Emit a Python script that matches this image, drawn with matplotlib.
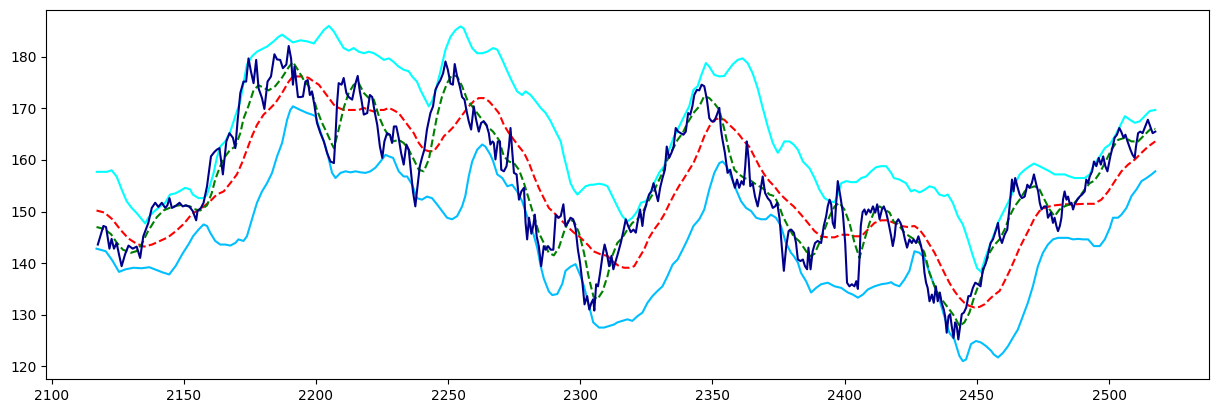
import numpy as np
import matplotlib
matplotlib.use("Agg")
import matplotlib.pyplot as plt

# price
price_x = [2117.5, 2119.6, 2120.6, 2121.9, 2122.7, 2123.6, 2124.6, 2125.5, 2126.5, 2127.8, 2129.1, 2130.7, 2132.2, 2133.5, 2134.7, 2136.6, 2137.9, 2139.2, 2140.4, 2141.7, 2143.0, 2143.8, 2144.6, 2145.5, 2146.7, 2148.4, 2149.6, 2150.9, 2152.2, 2153.4,
           2154.7, 2155.2, 2156.5, 2157.5, 2158.8, 2160.3, 2161.5, 2162.5, 2163.5, 2164.8, 2166.1, 2167.3, 2168.6, 2169.5, 2170.4, 2171.4, 2172.6, 2173.6, 2174.5, 2175.4, 2176.4, 2177.4, 2178.3, 2179.6, 2180.5, 2181.7, 2183.0, 2184.3, 2185.3, 2186.5, 2187.5, 2188.8, 2189.7, 2190.6, 2191.3,
           2191.9, 2192.6, 2193.2, 2194.1, 2195.1, 2196.0, 2196.9, 2197.7, 2198.5, 2199.4, 2200.4, 2201.7, 2203.0, 2204.2, 2205.5, 2206.8, 2207.4, 2208.0, 2208.6, 2209.7, 2210.5, 2211.5, 2212.4, 2213.7, 2215.0, 2215.8, 2216.6, 2217.2, 2218.1, 2219.4, 2220.4, 2221.3, 2222.2, 2223.2, 2224.2, 2225.1, 2225.9, 2226.9, 2228.0, 2228.8, 2229.5,
           2230.4, 2231.3, 2232.2, 2233.2, 2234.2, 2235.1, 2236.0, 2236.7, 2237.6, 2238.2, 2239.3, 2240.1, 2241.0, 2242.0, 2243.3, 2244.3, 2245.2, 2246.1, 2247.1, 2248.1, 2249.0, 2249.9, 2250.9, 2251.8, 2252.5, 2253.4, 2254.4, 2255.3, 2256.2, 2256.9, 2257.8, 2258.7, 2259.7, 2260.6, 2261.6, 2262.5, 2263.5, 2264.5, 2265.4, 2266.0, 2266.8,
           2267.3, 2267.9, 2268.8, 2269.6, 2270.1, 2271.1, 2272.1, 2273.0, 2273.6, 2274.2, 2274.9, 2275.9, 2276.8, 2277.7, 2278.7, 2279.3, 2279.9, 2280.6, 2281.5, 2282.2, 2282.8, 2283.5, 2284.3, 2285.2, 2286.2, 2286.9, 2287.8, 2288.8, 2289.8, 2290.7, 2291.6, 2292.6, 2293.6, 2294.4, 2295.3, 2296.3, 2297.3, 2298.2, 2299.1, 2299.9, 2300.8, 2301.6, 2302.6, 2303.4, 2304.2, 2304.9,
           2305.3, 2306.0, 2306.7, 2307.5, 2308.4, 2309.2, 2310.0, 2310.9, 2311.8, 2312.5, 2313.4, 2314.3, 2315.3, 2316.3, 2317.2, 2318.1, 2319.1, 2320.1, 2321.0, 2321.6, 2322.6, 2323.5, 2324.1, 2325.1, 2326.0, 2326.9, 2327.7, 2328.6, 2329.4, 2330.2, 2331.1, 2332.0, 2332.7, 2333.6, 2334.5, 2335.3, 2336.1, 2337.0, 2338.0, 2339.0, 2339.9, 2340.8, 2341.6, 2342.4, 2343.1,
           2344.1, 2345.0, 2345.9, 2346.9, 2347.9, 2348.8, 2349.7, 2350.7, 2351.7, 2352.6, 2353.2, 2353.8, 2354.7, 2355.7, 2356.7, 2357.6, 2358.5, 2359.3, 2360.1, 2361.0, 2361.8, 2362.4, 2363.0, 2363.7, 2364.3, 2365.2, 2366.1, 2367.1, 2368.1, 2369.0, 2369.9, 2370.9, 2371.9, 2372.8, 2373.7, 2374.5, 2375.4, 2376.2, 2377.0, 2377.9, 2378.8, 2379.8, 2380.8,
           2381.6, 2382.3, 2383.3, 2384.2, 2385.0, 2385.8, 2386.3, 2387.1, 2387.9, 2388.8, 2389.8, 2391.1, 2392.1, 2393.0, 2393.6, 2394.3, 2394.9, 2395.5, 2396.2, 2396.8, 2397.4, 2398.4, 2399.3, 2400.2, 2400.9, 2401.8, 2402.7, 2403.7, 2404.4, 2405.0, 2405.6, 2406.1, 2406.8, 2407.5, 2408.1, 2409.0, 2409.8, 2410.7, 2411.6, 2412.3, 2413.2, 2414.1, 2414.8, 2415.7, 2416.6, 2417.6, 2418.2, 2418.9,
           2419.4, 2420.3, 2421.1, 2422.0, 2422.8, 2423.6, 2424.5, 2425.4, 2426.1, 2427.0, 2427.9, 2428.6, 2429.5, 2430.2, 2430.8, 2431.4, 2432.1, 2433.0, 2433.7, 2434.5, 2435.2, 2436.0, 2436.7, 2437.5, 2438.0, 2438.6, 2439.3, 2439.9, 2440.5, 2441.2, 2441.8, 2442.4, 2443.0, 2443.7, 2444.3, 2445.1, 2446.0, 2446.8, 2447.6, 2448.5, 2449.4, 2450.4, 2451.4, 2452.3, 2453.2, 2454.2, 2455.2, 2456.1,
           2457.3, 2458.0, 2458.6, 2459.5, 2460.5, 2461.5, 2462.4, 2463.3, 2463.9, 2464.5, 2465.3, 2466.2, 2467.0, 2468.1, 2469.1, 2469.9, 2470.8, 2471.6, 2472.5, 2473.2, 2473.8, 2474.5, 2475.5, 2476.3, 2476.9, 2478.0, 2478.8, 2479.4, 2480.1, 2480.7, 2481.4, 2482.0, 2482.6, 2483.2, 2483.9, 2484.5, 2485.2, 2485.8, 2486.4, 2487.0, 2488.0, 2488.9, 2489.8, 2490.8, 2491.4, 2492.1, 2492.7, 2493.6, 2494.3,
           2495.2, 2496.1, 2496.9, 2497.8, 2498.6, 2499.4, 2500.5, 2501.4, 2502.1, 2503.0, 2503.9, 2504.6, 2505.5, 2506.2, 2507.0, 2508.1, 2508.9, 2509.7, 2510.2, 2511.0, 2511.8, 2512.7, 2513.7, 2514.7, 2515.6, 2516.5, 2517.5]
price_y = [143.6, 147.2, 147.0, 142.8, 144.7, 142.8, 143.9, 141.7, 139.4, 141.7, 143.4, 142.8, 143.2, 141.0, 145.2, 147.8, 150.7, 151.7, 150.9, 151.7, 150.7, 151.2, 152.6, 150.7, 151.0, 151.7, 151.0, 151.2, 150.9, 150.1,
           148.3, 150.1, 150.7, 151.7, 154.9, 160.7, 161.5, 162.0, 162.3, 157.2, 163.6, 165.2, 164.3, 162.3, 167.8, 173.0, 175.2, 175.2, 179.7, 177.2, 174.9, 179.4, 173.9, 172.0, 169.9, 175.2, 176.2, 180.5, 179.5, 179.4, 177.8, 178.5, 182.1, 179.7, 174.6,
           178.1, 174.9, 172.2, 172.2, 172.3, 175.2, 175.5, 172.6, 173.3, 170.7, 167.2, 165.2, 163.6, 161.4, 159.7, 159.4, 164.6, 171.0, 174.9, 174.6, 175.9, 173.0, 172.2, 171.7, 174.9, 176.3, 173.3, 171.7, 168.8, 169.1, 172.6, 172.2, 169.4, 166.8, 162.6, 160.4, 163.6, 165.2, 164.9, 163.3, 166.5,
           166.5, 164.3, 161.4, 159.1, 163.0, 162.0, 157.5, 153.9, 151.0, 153.9, 158.8, 160.4, 162.0, 165.9, 169.1, 170.4, 173.6, 174.6, 175.5, 176.8, 179.1, 177.5, 174.8, 174.6, 178.6, 176.2, 174.3, 172.2, 171.7, 169.7, 167.5, 165.9, 170.4, 167.8, 165.5, 167.2, 167.5, 166.8, 165.2, 163.0, 163.6,
           163.3, 160.1, 163.6, 163.6, 158.1, 157.8, 158.8, 162.6, 166.2, 162.0, 157.5, 157.2, 152.3, 153.9, 154.6, 147.8, 144.6, 148.8, 145.7, 147.2, 149.4, 145.2, 143.3, 139.4, 143.3, 142.6, 143.3, 142.6, 142.6, 149.4, 148.8, 149.1, 151.4, 147.2, 147.8, 148.8, 148.5, 146.8, 142.6, 140.1, 136.2, 132.0, 133.6, 131.0, 132.3, 133.0,
           130.8, 135.9, 135.5, 138.1, 141.4, 143.6, 142.0, 139.4, 141.4, 138.8, 140.4, 142.0, 143.9, 146.2, 148.5, 147.2, 146.0, 146.5, 145.9, 147.8, 150.4, 147.2, 149.8, 151.7, 153.3, 153.9, 155.5, 153.6, 152.0, 154.6, 156.5, 158.1, 162.6, 160.4, 161.4, 162.6, 166.2, 165.5, 165.2, 164.9, 165.5, 169.1, 168.8, 170.4, 172.6,
           173.6, 173.5, 174.6, 174.3, 171.7, 168.1, 167.5, 167.5, 168.8, 170.1, 165.9, 163.9, 161.4, 157.5, 158.1, 156.2, 154.6, 156.2, 154.6, 155.9, 155.2, 158.8, 163.6, 160.1, 154.9, 155.5, 152.9, 151.0, 153.9, 156.8, 153.6, 152.6, 152.0, 150.7, 151.0, 151.7, 148.5, 143.3, 138.5, 143.3, 146.2, 146.5, 145.9,
           143.9, 140.7, 140.4, 140.7, 139.4, 138.8, 143.0, 138.8, 142.3, 143.9, 144.3, 143.9, 147.2, 149.1, 151.0, 152.3, 151.4, 147.8, 146.8, 151.7, 155.9, 152.9, 149.8, 143.9, 136.2, 135.5, 135.9, 135.5, 136.5, 135.0, 140.7, 147.2, 149.9, 150.4, 149.4, 150.4, 149.8, 151.0, 149.8, 151.4, 148.5, 150.4, 151.0, 149.8, 147.8, 145.2, 143.3, 145.2,
           147.8, 148.5, 147.8, 146.5, 144.6, 143.0, 144.6, 143.9, 144.6, 143.9, 145.2, 143.9, 142.0, 138.1, 136.2, 135.2, 132.6, 133.9, 132.3, 135.5, 132.6, 134.3, 132.3, 131.0, 129.7, 126.5, 129.7, 130.1, 127.8, 125.5, 128.5, 127.8, 125.2, 127.8, 130.1, 130.4, 131.4, 133.6, 133.6, 135.2, 136.2, 135.9, 135.5, 138.8, 139.7, 141.7, 143.9, 144.6,
           146.5, 147.8, 145.2, 143.9, 145.5, 146.5, 151.0, 156.2, 153.9, 156.5, 154.9, 153.3, 152.6, 152.9, 155.2, 154.6, 155.5, 157.2, 155.2, 153.9, 151.7, 150.4, 151.0, 151.0, 148.8, 149.8, 147.8, 148.8, 147.2, 146.2, 147.2, 148.8, 152.3, 153.9, 152.3, 152.9, 151.4, 151.7, 150.4, 151.4, 152.3, 152.9, 153.3, 153.9, 156.2, 155.5, 156.8, 157.8, 159.7,
           158.8, 160.4, 159.1, 160.7, 158.8, 157.8, 160.7, 162.6, 164.3, 164.9, 166.2, 165.5, 164.3, 164.9, 163.6, 162.0, 161.0, 160.4, 162.6, 165.2, 165.5, 165.2, 166.5, 167.8, 166.5, 165.2, 165.5]

# short moving average (green dashed)
short_x = [2117.0, 2120.0, 2122.5, 2124.6, 2127.0, 2130.0, 2132.0, 2134.0, 2136.5, 2139.8, 2142.3, 2146.0, 2149.3, 2152.4,
           2153.7, 2156.2, 2158.8, 2160.6, 2161.9, 2163.8, 2165.7, 2167.6, 2169.5, 2171.4, 2172.6, 2174.5, 2176.4, 2178.3, 2180.2, 2182.1, 2184.6, 2187.2, 2189.7, 2191.3,
           2193.5, 2195.4, 2197.3, 2198.5, 2200.4, 2202.3, 2204.2, 2206.1, 2206.8, 2208.6, 2210.5, 2212.4, 2214.3, 2216.2, 2218.1, 2220.0, 2221.9, 2223.8, 2225.7, 2227.6, 2229.2,
           2231.3, 2233.2, 2235.1, 2237.0, 2238.9, 2240.8, 2242.7, 2243.9, 2245.8, 2247.7, 2249.6, 2251.5, 2253.4, 2255.3, 2257.2, 2259.1, 2261.0, 2262.9, 2264.8, 2267.0,
           2269.2, 2271.1, 2273.0, 2274.9, 2276.8, 2278.7, 2280.6, 2282.5, 2284.3, 2286.2, 2288.1, 2290.0, 2291.9, 2293.8, 2295.7, 2297.6, 2299.5, 2301.4, 2303.3, 2305.0,
           2306.5, 2308.4, 2310.3, 2312.1, 2314.0, 2315.9, 2317.8, 2319.7, 2321.6, 2323.5, 2325.4, 2327.3, 2329.2, 2331.1, 2333.0, 2334.9, 2336.8, 2338.7, 2340.6, 2342.8,
           2345.0, 2346.9, 2348.8, 2350.7, 2352.6, 2354.5, 2356.4, 2358.3, 2360.1, 2362.0, 2363.9, 2365.8, 2367.7, 2369.6, 2371.5, 2373.4, 2375.3, 2376.6, 2378.5, 2380.7,
           2382.9, 2384.8, 2386.7, 2388.6, 2390.5, 2392.4, 2394.3, 2396.2, 2398.0, 2399.9, 2401.8, 2403.7, 2405.6, 2407.5, 2409.4, 2411.3, 2413.2, 2415.1, 2417.0, 2418.6,
           2420.1, 2422.6, 2424.5, 2426.4, 2428.3, 2430.2, 2432.1, 2434.0, 2435.8, 2437.7, 2439.6, 2441.5, 2443.4, 2445.3, 2447.2, 2449.1, 2451.0, 2452.9, 2454.8, 2456.6,
           2458.6, 2460.5, 2462.4, 2464.3, 2466.2, 2468.1, 2470.0, 2471.9, 2473.7, 2475.6, 2477.5, 2479.4, 2481.3, 2483.2, 2485.1, 2487.0, 2488.9, 2490.8, 2492.7, 2494.5,
           2496.5, 2498.4, 2500.9, 2503.4, 2506.0, 2508.5, 2511.0, 2513.5, 2516.1, 2517.5]
short_y = [147.0, 146.6, 145.6, 144.0, 142.6, 142.0, 142.3, 143.6, 146.2, 148.9, 150.2, 151.0, 151.3, 151.0,
           150.5, 150.2, 151.2, 153.6, 156.2, 158.8, 160.7, 162.0, 162.6, 165.2, 168.0, 170.5, 173.5, 174.5, 174.0, 173.5, 174.3, 176.0, 178.0, 179.0,
           177.2, 175.5, 174.3, 173.0, 169.7, 167.2, 165.2, 163.0, 162.3, 165.9, 170.1, 173.0, 174.6, 174.9, 173.0, 172.0, 171.7, 168.5, 166.2, 164.6, 163.6,
           163.9, 163.3, 162.0, 160.1, 158.1, 157.8, 160.1, 163.3, 168.5, 172.3, 174.9, 176.5, 176.2, 174.3, 171.7, 170.4, 169.1, 167.8, 166.5, 165.5,
           163.9, 160.7, 159.7, 159.4, 158.1, 155.5, 152.3, 149.1, 145.9, 143.9, 142.0, 141.5, 143.0, 146.0, 148.5, 148.1, 145.9, 142.0, 137.0, 133.5,
           133.0, 134.5, 137.5, 141.4, 143.9, 144.9, 146.5, 147.8, 148.5, 149.8, 151.7, 153.3, 155.5, 157.5, 160.1, 162.0, 163.9, 165.2, 167.2, 169.1,
           170.4, 172.4, 172.0, 171.0, 169.7, 165.9, 161.4, 158.1, 157.2, 156.5, 156.2, 155.5, 154.9, 154.3, 153.3, 153.0, 151.0, 149.1, 147.2, 145.2,
           144.2, 142.8, 141.3, 141.8, 144.0, 146.5, 149.1, 151.0, 151.7, 150.4, 147.8, 144.0, 141.0, 144.5, 147.8, 150.1, 151.0, 150.4, 149.8, 148.0,
           147.6, 145.9, 145.2, 144.6, 143.9, 142.0, 138.1, 135.5, 133.6, 132.3, 131.0, 129.7, 127.8, 128.5, 130.4, 133.6, 136.2, 139.4, 142.0, 143.5,
           144.6, 146.5, 149.1, 151.0, 152.3, 153.9, 154.6, 154.9, 154.3, 152.3, 150.4, 149.1, 150.4, 151.0, 151.4, 151.7, 152.9, 154.3, 155.5, 156.0,
           157.5, 159.4, 162.0, 163.9, 164.3, 163.6, 163.6, 164.9, 166.2, 166.0]

# long moving average (red dashed)
long_x = [2117.0, 2120.0, 2123.0, 2126.0, 2129.0, 2132.0, 2135.0, 2138.0, 2141.0, 2144.0, 2147.0, 2150.0, 2153.0,
          2156.9, 2160.0, 2162.5, 2165.1, 2167.6, 2170.1, 2172.0, 2173.9, 2175.8, 2177.7, 2180.2, 2182.1, 2184.6, 2187.2, 2189.7, 2191.3,
          2193.5, 2195.4, 2197.3, 2199.2, 2201.1, 2203.0, 2204.9, 2206.8, 2208.6, 2210.5, 2212.4, 2214.3, 2216.2, 2218.1, 2220.0, 2221.9, 2223.8, 2225.7, 2227.6, 2229.2,
          2231.3, 2233.2, 2235.1, 2237.0, 2238.9, 2240.8, 2242.7, 2244.6, 2246.5, 2248.4, 2250.3, 2252.2, 2254.0, 2255.9, 2257.8, 2259.7, 2261.6, 2263.5, 2265.4, 2267.0,
          2269.2, 2271.1, 2273.0, 2274.9, 2276.8, 2278.7, 2280.6, 2282.5, 2284.3, 2286.2, 2288.1, 2290.0, 2291.9, 2293.8, 2295.7, 2297.6, 2299.5, 2301.4, 2303.3, 2304.9,
          2307.7, 2310.3, 2312.8, 2314.7, 2316.6, 2318.5, 2320.4, 2322.2, 2324.1, 2326.0, 2327.9, 2329.8, 2331.7, 2333.6, 2335.5, 2337.4, 2339.3, 2341.2, 2342.8,
          2345.0, 2346.9, 2348.8, 2350.7, 2352.6, 2354.5, 2356.4, 2358.3, 2360.1, 2362.0, 2363.9, 2365.8, 2367.7, 2369.6, 2371.5, 2373.4, 2375.3, 2377.2, 2379.1, 2380.7,
          2383.5, 2386.1, 2388.6, 2391.1, 2393.6, 2396.2, 2398.7, 2401.2, 2403.7, 2406.3, 2408.8, 2411.3, 2413.8, 2416.4, 2418.6,
          2421.3, 2423.9, 2426.4, 2428.3, 2430.2, 2432.1, 2434.0, 2435.8, 2437.7, 2439.6, 2441.5, 2443.4, 2445.3, 2447.2, 2449.1, 2451.0, 2452.9, 2454.8, 2456.5,
          2458.6, 2460.5, 2462.4, 2464.3, 2466.2, 2468.1, 2470.0, 2471.9, 2473.7, 2475.6, 2477.5, 2479.4, 2483.2, 2487.0, 2490.8, 2494.3,
          2497.1, 2499.7, 2502.2, 2504.7, 2507.2, 2509.8, 2512.3, 2514.8, 2517.5]
long_y = [150.2, 149.8, 148.5, 146.5, 144.8, 143.8, 143.2, 143.6, 144.3, 145.0, 146.2, 147.6, 149.5,
          150.7, 152.0, 153.3, 153.9, 155.5, 157.2, 159.4, 162.0, 164.6, 166.8, 168.8, 169.7, 171.0, 173.0, 175.2, 176.2,
          176.2, 176.2, 175.9, 175.2, 174.6, 173.3, 172.0, 170.7, 170.1, 169.7, 169.7, 169.7, 169.7, 170.1, 169.7, 169.4, 169.7, 169.7, 170.1, 169.7,
          169.1, 167.8, 166.5, 165.2, 163.3, 162.0, 161.7, 161.7, 163.0, 164.6, 165.5, 166.5, 167.8, 169.1, 170.4, 171.4, 172.0, 172.0, 171.4, 170.5,
          169.1, 166.8, 165.2, 163.9, 162.6, 161.4, 159.4, 156.8, 154.6, 152.6, 150.7, 149.8, 148.8, 147.8, 146.8, 145.9, 145.2, 144.3, 143.3, 142.3,
          141.7, 141.4, 140.1, 139.4, 139.1, 139.1, 139.4, 141.0, 142.6, 144.9, 146.5, 147.8, 149.4, 151.4, 153.3, 155.0, 156.5, 158.1, 159.4,
          162.0, 164.6, 166.5, 167.8, 168.1, 167.8, 166.8, 165.9, 164.9, 163.6, 162.6, 160.7, 158.8, 157.2, 155.9, 154.9, 153.6, 152.6, 151.7, 151.0,
          149.4, 147.8, 146.2, 145.2, 145.0, 145.0, 145.5, 145.5, 145.2, 145.2, 146.5, 147.8, 148.3, 148.3, 147.8,
          147.2, 147.0, 147.2, 146.5, 145.2, 143.6, 142.0, 140.1, 138.1, 136.2, 134.6, 133.3, 132.3, 131.7, 131.4, 131.5, 132.0, 133.0, 133.8,
          134.6, 136.5, 138.5, 140.7, 143.0, 144.9, 146.8, 148.8, 150.1, 150.7, 151.0, 151.2, 151.4, 151.4, 151.5, 151.5,
          152.3, 153.9, 155.9, 157.8, 159.1, 160.1, 161.4, 162.6, 163.6]

# upper band (cyan)
upper_x = [2117.1, 2120.9, 2122.7, 2124.6, 2126.5, 2128.4, 2130.3, 2132.2, 2134.1, 2135.4, 2136.6, 2138.5, 2141.1, 2143.0, 2144.8, 2146.7, 2148.6, 2150.5, 2152.4, 2153.4,
           2155.6, 2157.5, 2158.8, 2160.0, 2161.3, 2162.5, 2163.8, 2165.7, 2167.6, 2169.5, 2171.4, 2172.6, 2173.9, 2175.8, 2177.7, 2179.6, 2181.5, 2184.0, 2185.9, 2187.2, 2189.1, 2191.3,
           2194.1, 2196.7, 2199.2, 2201.1, 2203.0, 2204.9, 2206.8, 2208.6, 2210.5, 2212.4, 2214.3, 2216.2, 2218.1, 2220.0, 2221.9, 2223.8, 2225.7, 2227.6, 2229.2,
           2231.3, 2233.2, 2235.1, 2236.4, 2238.2, 2239.5, 2241.4, 2242.7, 2243.9, 2245.2, 2247.1, 2249.0, 2250.9, 2252.8, 2254.7, 2255.9, 2257.2, 2259.1, 2261.0, 2262.9, 2264.8, 2267.0,
           2268.6, 2270.5, 2272.4, 2274.2, 2276.1, 2278.0, 2279.3, 2281.2, 2283.1, 2285.0, 2286.9, 2288.8, 2290.7, 2292.6, 2293.8, 2295.1, 2296.3, 2297.6, 2298.9, 2300.1, 2302.0, 2303.9, 2304.9,
           2307.1, 2309.0, 2310.3, 2312.1, 2314.0, 2315.9, 2317.8, 2319.7, 2321.6, 2322.9, 2324.8, 2326.0, 2327.9, 2329.8, 2331.7, 2333.6, 2335.5, 2337.4, 2339.3, 2341.2, 2342.8,
           2344.4, 2345.6, 2347.5, 2348.8, 2350.7, 2352.6, 2354.5, 2355.7, 2357.6, 2359.5, 2361.4, 2363.3, 2365.2, 2367.1, 2369.0, 2370.9, 2372.8, 2374.7, 2375.9, 2377.2, 2379.1, 2380.7,
           2382.3, 2384.2, 2386.7, 2388.6, 2390.5, 2392.4, 2394.3, 2396.2, 2397.4, 2398.7, 2400.6, 2402.5, 2404.4, 2406.3, 2408.1, 2410.0, 2411.9, 2413.8, 2415.7, 2417.6, 2418.6,
           2420.7, 2423.2, 2425.1, 2426.4, 2428.3, 2430.2, 2432.1, 2434.0, 2435.8, 2437.7, 2439.0, 2440.9, 2442.8, 2444.7, 2446.6, 2448.5, 2450.1, 2451.6, 2453.2, 2454.8, 2456.4,
           2458.0, 2459.2, 2461.1, 2463.0, 2464.3, 2466.2, 2468.1, 2470.0, 2471.6, 2473.7, 2475.6, 2477.5, 2479.4, 2481.3, 2483.2, 2485.1, 2487.0, 2488.9, 2490.8, 2492.7, 2494.3,
           2496.5, 2498.4, 2500.3, 2502.2, 2504.1, 2506.0, 2507.9, 2509.8, 2511.6, 2513.5, 2515.4, 2517.5]
upper_y = [157.7, 157.7, 158.0, 156.8, 154.3, 152.0, 150.7, 149.7, 148.5, 147.7, 148.8, 149.9, 151.0, 151.7, 153.3, 153.5, 154.0, 154.6, 154.3, 153.3,
           152.6, 152.6, 153.3, 155.2, 157.5, 160.4, 162.6, 163.6, 165.5, 168.5, 171.4, 174.9, 178.5, 180.1, 181.0, 181.5, 182.0, 183.0, 183.9, 184.3, 183.6, 182.8,
           183.2, 183.0, 182.6, 183.9, 185.2, 186.0, 184.9, 183.3, 181.7, 181.2, 181.7, 181.0, 180.7, 181.0, 180.7, 180.1, 179.4, 179.7, 179.1,
           178.1, 177.5, 177.2, 176.2, 175.2, 173.6, 171.7, 170.4, 171.4, 173.3, 177.2, 181.4, 183.9, 185.2, 185.9, 185.5, 183.9, 181.7, 180.7, 180.7, 181.0, 181.7,
           181.4, 179.4, 177.2, 175.2, 173.3, 172.6, 173.3, 172.6, 171.4, 170.1, 169.1, 167.5, 165.5, 163.6, 160.7, 158.1, 155.5, 154.2, 153.3, 153.9, 154.9, 155.2, 155.2,
           155.4, 155.2, 154.9, 153.0, 151.0, 149.1, 148.1, 148.8, 150.1, 151.7, 152.0, 153.0, 155.5, 157.5, 158.8, 162.0, 164.6, 166.5, 168.5, 170.4, 173.6,
           174.3, 176.2, 178.8, 178.1, 176.5, 176.2, 176.3, 177.2, 178.5, 179.4, 179.7, 178.8, 176.8, 173.9, 170.1, 166.5, 163.3, 161.4, 162.3, 163.6, 163.6, 163.0,
           162.0, 159.7, 158.4, 156.5, 154.2, 152.6, 152.0, 151.8, 153.3, 155.5, 155.9, 155.7, 155.7, 156.5, 156.8, 157.8, 158.6, 158.8, 158.8, 157.5, 156.5,
           156.2, 155.5, 153.9, 154.2, 153.7, 154.2, 154.9, 154.6, 153.3, 153.0, 153.3, 151.7, 149.1, 147.5, 144.6, 141.4, 139.0, 138.3, 141.0, 143.3, 145.5,
           147.8, 149.1, 151.0, 153.0, 155.2, 157.2, 158.1, 158.8, 159.3, 158.8, 158.3, 157.8, 157.2, 157.2, 157.2, 156.8, 156.5, 156.5, 156.5, 157.2, 159.1,
           160.7, 162.3, 163.0, 164.6, 166.5, 168.5, 167.8, 167.2, 167.5, 168.5, 169.5, 169.7]

# lower band (deepskyblue)
lower_x = [2117.0, 2120.5, 2123.0, 2125.5, 2128.0, 2131.0, 2134.0, 2137.0, 2140.0, 2142.0, 2144.5, 2147.0, 2149.5, 2152.0, 2153.5,
           2155.6, 2157.5, 2158.8, 2160.0, 2161.9, 2163.8, 2165.7, 2167.6, 2169.5, 2170.7, 2172.6, 2173.9, 2175.8, 2177.7, 2179.6, 2181.5, 2183.4, 2185.3, 2187.2, 2189.1, 2190.3, 2191.3,
           2194.1, 2196.7, 2198.5, 2199.8, 2201.7, 2203.6, 2204.9, 2206.1, 2207.4, 2209.3, 2211.2, 2213.1, 2215.0, 2216.9, 2218.8, 2220.6, 2222.5, 2224.4, 2226.3, 2227.6, 2229.2,
           2231.3, 2233.2, 2234.5, 2236.4, 2238.2, 2240.1, 2242.0, 2243.9, 2245.8, 2247.7, 2249.6, 2251.5, 2253.4, 2255.3, 2256.5, 2257.8, 2259.1, 2261.0, 2262.9, 2264.1, 2266.0, 2267.0,
           2268.6, 2270.5, 2272.4, 2274.2, 2276.1, 2278.0, 2279.9, 2281.8, 2283.7, 2285.0, 2286.2, 2288.1, 2289.4, 2291.3, 2293.2, 2294.4, 2296.3, 2298.2, 2300.1, 2301.4, 2303.3, 2304.9,
           2307.1, 2309.0, 2310.9, 2312.8, 2314.0, 2315.9, 2317.8, 2319.7, 2321.6, 2323.5, 2325.4, 2327.3, 2329.2, 2331.1, 2333.0, 2334.9, 2336.8, 2338.7, 2340.6, 2342.8,
           2345.0, 2346.9, 2348.8, 2350.7, 2352.6, 2353.8, 2355.1, 2357.0, 2358.9, 2360.8, 2362.7, 2364.6, 2366.5, 2368.4, 2370.2, 2372.1, 2374.0, 2375.9, 2377.8, 2379.7, 2380.7,
           2382.3, 2383.5, 2385.4, 2387.3, 2389.2, 2391.1, 2393.6, 2396.2, 2398.7, 2401.2, 2403.1, 2405.0, 2406.9, 2408.8, 2411.3, 2413.8, 2416.4, 2417.6, 2418.6,
           2420.7, 2422.6, 2424.5, 2426.4, 2428.3, 2430.2, 2432.1, 2434.0, 2435.8, 2437.7, 2439.6, 2441.5, 2443.4, 2444.7, 2445.9, 2447.8, 2449.7, 2451.6, 2453.5, 2455.4, 2456.4,
           2458.0, 2459.9, 2461.8, 2463.6, 2465.5, 2467.4, 2469.3, 2471.2, 2473.1, 2475.0, 2476.9, 2478.8, 2480.7, 2482.6, 2484.5, 2486.4, 2488.3, 2490.2, 2492.1, 2494.3,
           2496.5, 2498.4, 2500.3, 2501.5, 2503.4, 2504.7, 2506.6, 2508.5, 2510.4, 2512.3, 2514.2, 2516.1, 2517.5]
lower_y = [142.8, 142.3, 140.5, 138.3, 138.8, 139.1, 139.0, 139.2, 138.6, 138.2, 137.8, 139.5, 141.8, 143.8, 145.2,
           146.5, 147.5, 147.2, 145.9, 144.3, 143.6, 143.6, 143.4, 143.9, 144.6, 144.3, 145.2, 148.5, 151.7, 153.9, 155.5, 157.5, 160.7, 163.3, 167.8, 169.7, 170.4,
           169.7, 169.1, 168.8, 168.5, 165.5, 162.6, 160.1, 157.5, 156.5, 157.5, 157.8, 157.6, 157.8, 157.6, 157.5, 157.8, 158.5, 159.7, 161.0, 160.7, 160.4,
           157.8, 156.8, 156.8, 155.2, 152.6, 152.3, 152.9, 152.6, 151.4, 150.1, 148.8, 148.5, 149.1, 151.0, 153.0, 156.8, 159.7, 162.0, 163.0, 162.6, 161.0, 159.8,
           157.2, 156.5, 154.9, 155.2, 153.9, 152.0, 149.1, 146.5, 143.0, 139.5, 137.0, 134.5, 133.8, 134.0, 136.0, 138.5, 139.3, 139.8, 137.5, 135.5, 131.7, 128.5,
           127.5, 127.5, 127.8, 128.1, 128.5, 128.8, 129.1, 128.8, 129.7, 130.4, 132.3, 133.6, 134.6, 135.5, 137.5, 139.7, 140.7, 142.6, 144.6, 147.2,
           148.5, 150.4, 154.3, 157.5, 159.4, 159.7, 159.0, 156.8, 154.3, 152.0, 150.7, 150.1, 148.8, 148.5, 148.5, 149.4, 148.8, 147.2, 143.9, 142.0, 141.4,
           140.1, 138.1, 136.5, 134.3, 135.2, 135.9, 136.2, 135.5, 135.2, 134.3, 133.9, 133.3, 133.9, 134.9, 135.5, 135.9, 136.1, 136.3, 135.9,
           135.5, 136.8, 138.5, 142.3, 142.0, 141.0, 138.1, 135.5, 133.0, 129.7, 126.5, 125.2, 122.0, 121.0, 121.3, 124.3, 124.9, 124.6, 123.9, 123.0, 122.3,
           121.7, 122.6, 123.9, 125.5, 127.1, 129.7, 132.3, 135.5, 139.4, 142.0, 143.6, 144.6, 144.9, 144.9, 144.9, 144.6, 144.7, 144.6, 144.6, 143.3,
           143.3, 144.6, 146.8, 148.8, 148.8, 149.4, 150.7, 153.0, 154.3, 155.9, 156.5, 157.2, 157.8]

fig, ax = plt.subplots(figsize=(12.18, 4.13), dpi=100)
fig.subplots_adjust(left=0.038, right=0.993, bottom=0.082, top=0.976)

ax.plot(upper_x, upper_y, color='cyan')
ax.plot(lower_x, lower_y, color='deepskyblue')
ax.plot(long_x, long_y, color='red', linestyle='--')
ax.plot(short_x, short_y, color='green', linestyle='--')
ax.plot(price_x, price_y, color='darkblue')

ax.set_xlim(2098, 2538)
ax.set_ylim(117.5, 189.1)
ax.set_xticks(np.arange(2100, 2501, 50))
ax.set_yticks(np.arange(120, 181, 10))

fig.savefig('out.png')
